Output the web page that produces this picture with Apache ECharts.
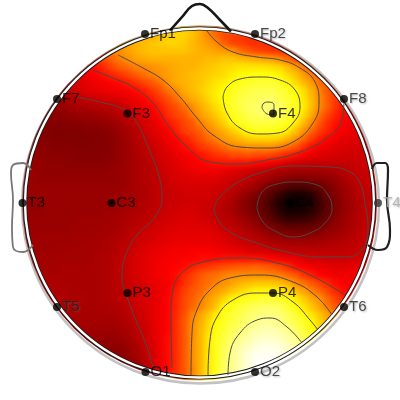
<!DOCTYPE html>
<html><head><meta charset="utf-8">
<style>html,body{margin:0;padding:0;background:#fff}#c{width:400px;height:400px}</style>
<script src="https://cdn.jsdelivr.net/npm/echarts@6/dist/echarts.min.js"></script>
</head><body><div id="c"></div>
<script>
const _=null;
const fieldValues=[
[_,_,_,_,_,_,_,_,_,_,_,_,_,_,_,_,_,_,_,74,74,72,70,66,62,60],
[_,_,_,_,_,_,_,_,_,_,_,_,_,_,_,68,70,72,74,75,75,73,70,66,62,59,57,56,55,54],
[_,_,_,_,_,_,_,_,_,_,_,_,66,69,71,72,73,74,75,75,74,72,70,68,66,61,58,57,56,55,55,54,54],
[_,_,_,_,_,_,_,_,_,_,62,64,67,69,71,72,73,73,73,73,73,72,71,70,69,68,67,63,60,58,57,56,55,55,55],
[_,_,_,_,_,_,_,_,_,56,59,62,65,67,69,70,71,71,71,71,71,71,71,72,72,73,73,72,71,70,69,68,66,62,58,55],
[_,_,_,_,_,_,_,_,50,52,55,58,61,63,65,66,67,68,69,70,71,71,72,73,74,75,76,77,77,77,77,76,75,72,68,64,60],
[_,_,_,_,_,_,_,44,48,50,52,54,56,58,61,63,65,67,69,70,71,72,73,74,75,76,78,79,80,81,81,80,79,76,73,68,64,60,56],
[_,_,_,_,_,36,40,43,45,47,48,50,51,53,55,58,60,63,67,70,71,72,73,75,77,78,80,82,83,84,84,84,82,79,76,72,68,63,59,55],
[_,_,_,_,34,37,40,42,44,45,46,47,48,49,51,53,56,59,63,66,70,72,74,76,78,80,82,84,85,86,86,86,85,83,80,76,71,65,60,55,52],
[_,_,_,_,30,32,35,37,39,40,41,42,43,45,47,50,53,56,59,63,67,70,72,75,78,80,83,85,86,87,88,88,86,84,81,77,72,66,61,56,52],
[_,_,_,28,29,30,32,33,34,35,36,37,39,41,44,47,50,53,57,59,63,66,70,73,76,79,83,85,87,88,89,89,88,85,82,78,72,66,61,56,52,49],
[_,_,27,27,28,28,29,30,30,31,32,34,36,38,41,44,47,51,55,58,60,64,68,71,74,77,82,84,86,87,88,88,87,84,81,76,70,63,58,54,51,49,47],
[_,_,27,26,26,26,27,27,28,28,29,30,32,35,38,41,44,48,52,55,58,60,65,68,71,75,79,82,84,85,85,85,84,82,78,72,66,60,55,52,49,47,45],
[_,26,26,25,25,25,25,25,26,26,27,28,30,33,36,40,43,46,49,53,57,59,61,65,68,71,74,77,80,82,82,81,81,78,73,67,62,57,54,50,48,46,44,43],
[_,27,26,26,25,25,25,25,25,26,26,27,29,32,35,38,41,44,47,50,53,56,59,62,65,68,70,72,74,75,75,75,74,71,67,62,57,53,50,47,45,44,43,42],
[_,28,27,27,26,26,26,26,26,26,26,27,29,31,34,37,39,42,45,48,51,53,56,58,60,63,65,66,67,67,67,67,65,63,60,55,51,48,46,44,43,42,41,41],
[29,28,28,27,27,27,27,26,26,26,27,27,29,31,33,36,38,41,43,46,48,50,52,54,56,57,59,59,60,59,59,58,56,54,52,49,46,44,43,42,41,41,41,40,40],
[30,29,29,28,28,28,27,27,27,27,27,28,29,31,33,35,37,40,42,44,46,48,50,51,52,52,52,52,52,51,50,48,46,43,41,40,39,39,39,39,39,39,40,40,40],
[30,29,29,28,28,28,28,28,28,28,28,29,30,31,33,35,36,39,41,43,45,46,47,47,47,46,44,43,41,39,38,36,34,33,32,32,32,32,33,34,36,38,39,40,40],
[30,30,29,29,29,29,29,29,29,29,29,29,30,31,33,35,36,38,40,42,43,44,44,44,44,42,40,39,37,35,33,30,27,26,25,25,26,27,28,30,33,36,38,39,40],
[30,30,30,30,30,30,30,30,30,30,30,30,30,31,33,34,36,38,39,41,42,42,42,42,41,40,38,36,34,30,26,22,19,16,15,15,17,20,24,27,31,34,37,39,40],
[30,30,30,30,30,30,30,30,30,30,30,30,31,32,33,34,36,38,39,40,41,41,41,41,40,38,35,32,28,25,21,16,11,6,4,5,8,15,22,26,30,33,37,38,39],
[29,29,29,29,30,30,30,30,30,30,30,31,31,32,33,35,36,38,39,40,41,41,41,40,38,36,33,29,25,22,18,12,6,2,2,3,6,12,19,24,29,32,35,38,39],
[30,29,29,30,30,30,30,30,30,30,31,31,32,33,34,35,37,38,40,41,42,42,41,39,37,35,33,29,26,23,19,14,8,4,4,5,8,13,19,25,29,32,35,38,39],
[31,30,30,30,30,30,30,31,31,31,31,32,33,34,35,36,38,40,41,42,43,43,42,41,38,36,35,32,29,26,22,18,13,10,10,11,13,17,22,27,30,33,36,38,39],
[31,30,30,30,30,30,31,31,31,31,32,32,33,35,36,38,40,41,43,43,44,44,44,43,41,38,37,35,32,30,27,24,21,19,19,19,20,23,26,29,31,34,36,38,39],
[31,31,31,31,31,31,31,31,31,32,32,33,34,36,38,40,41,43,44,45,45,45,45,45,44,42,40,38,36,34,32,29,27,26,26,26,27,28,30,31,33,35,37,39,40],
[31,31,31,31,31,31,31,32,32,32,33,34,35,37,39,41,43,44,45,46,46,46,46,46,45,44,42,40,39,38,36,34,33,32,32,32,32,33,34,35,36,37,38,40,41],
[32,32,31,31,31,32,32,32,32,33,33,34,36,38,41,43,45,46,47,48,48,49,49,49,48,47,46,45,43,42,41,40,39,38,37,37,37,37,37,37,37,38,39,42,43],
[_,32,32,32,32,32,32,32,32,33,34,35,37,40,42,44,46,47,48,49,50,50,51,51,51,52,52,52,52,52,51,50,48,46,45,43,42,41,40,40,40,41,42,44],
[_,33,33,32,32,33,33,33,33,33,34,35,37,40,42,44,46,48,49,50,51,53,55,56,58,59,60,61,61,62,61,60,58,55,51,49,47,46,45,44,44,45,46,47],
[_,_,33,33,33,33,33,33,33,33,34,35,37,40,42,44,46,48,49,51,54,57,60,62,63,65,66,66,66,66,66,65,64,62,60,56,53,50,48,47,47,47,48],
[_,_,34,34,34,33,33,33,33,33,34,35,37,39,41,43,45,47,49,51,55,58,61,63,65,67,69,71,72,73,73,73,72,70,66,63,60,57,54,51,49,49,50],
[_,_,34,34,34,34,33,33,33,33,34,35,36,39,41,42,44,46,49,53,57,60,62,65,68,70,73,75,77,79,79,79,78,76,72,69,65,62,58,54,51,50],
[_,_,_,34,34,34,34,34,33,33,34,35,36,38,40,42,44,46,50,54,58,61,64,68,71,75,79,81,82,83,84,84,83,81,78,74,70,67,62,58,54,52],
[_,_,_,34,34,33,33,33,33,33,33,34,35,37,40,42,44,47,50,54,58,62,65,69,73,80,82,84,86,87,88,88,87,84,81,77,73,69,64,60,56],
[_,_,_,_,33,33,33,33,33,33,33,33,34,36,39,41,44,47,50,55,59,65,69,73,78,82,84,86,88,89,90,90,89,87,84,81,77,73,69,64,60],
[_,_,_,_,_,33,32,32,32,32,32,32,33,35,37,40,44,47,50,55,60,66,70,75,80,83,85,87,89,91,92,92,90,88,86,83,80,75,71,66],
[_,_,_,_,_,_,32,32,31,31,31,31,32,33,36,39,43,47,50,55,60,66,71,76,81,84,87,89,91,93,94,94,93,91,88,85,81,76,72],
[_,_,_,_,_,_,_,31,30,30,29,29,30,32,35,39,43,47,51,55,60,66,71,77,82,85,88,91,93,95,96,96,95,93,91,87,83,78],
[_,_,_,_,_,_,_,_,30,29,28,28,28,30,33,37,42,46,51,55,60,66,71,77,82,86,90,93,95,97,98,98,97,95,93,89,85],
[_,_,_,_,_,_,_,_,_,_,27,27,27,29,32,36,41,46,51,55,60,66,71,77,82,87,91,94,97,99,99,99,98,96,93],
[_,_,_,_,_,_,_,_,_,_,_,_,27,29,31,35,40,46,51,55,60,66,71,77,82,87,91,94,97,99,100,99,98],
[_,_,_,_,_,_,_,_,_,_,_,_,_,_,32,36,40,46,51,55,60,65,71,77,82,88,91,94,97,99,99],
[_,_,_,_,_,_,_,_,_,_,_,_,_,_,_,_,_,_,_,58,62,66,72,78,84,88]
];
const contourLeft=[[76,97],[100,102],[125,110],[137,123],[148,147],[158,173],[162,197],[155,217],[137,235],[125,257],[122,277],[127,297],[137,323],[147,347],[153,368]];
const contourUpperOuter=[[93,70],[113,78],[133,87],[153,103],[168,125],[187,147],[210,162],[237,164],[267,160],[300,152],[328,137],[342,120],[344,100]];
const contourUpperMid=[[118,55],[143,68],[163,80],[180,97],[197,118],[213,135],[240,147],[267,148],[293,142],[313,123],[319,102],[315,82],[300,68],[280,60],[257,57],[233,52],[217,42],[207,31]];
const contourF4=[[223,97],[227,87],[240,79],[260,77],[280,80],[295,90],[300,107],[293,123],[278,133],[260,134],[240,128],[227,113],[223,97]];
const contourF4Peak=[[262,108],[263,104],[268,102],[274,105],[273,115],[267,114],[262,108]];
const contourBlobOuter=[[214,208],[220,197],[237,183],[263,172],[293,166],[330,167],[350,172],[360,183],[365,203],[368,227],[363,248],[347,257],[320,257],[287,252],[257,243],[230,232],[217,218],[214,208]];
const contourBlobInner=[[257,208],[262,192],[277,184],[295,182],[317,185],[328,195],[332,208],[325,223],[310,233],[293,237],[277,232],[263,222],[257,208]];
const contourLower1=[[172,368],[171,317],[173,290],[183,272],[203,262],[240,258],[277,263],[310,275],[345,295]];
const contourLower2=[[191,375],[192,333],[197,310],[210,290],[230,278],[260,275],[293,282],[317,297],[332,315]];
const contourLower3=[[208,375],[210,340],[217,317],[233,300],[257,293],[273,293],[293,302],[310,320],[318,330]];
const contourLower4=[[228,375],[230,353],[240,333],[257,320],[270,318],[287,327],[302,343]];
const noseOutline=[[170,30.5],[182,17],[192,6],[200,4],[208,8],[220,20],[231,31.5]];
const leftEarOutline=[[31,170],[23,163],[13,165],[11,173],[13,200],[12,227],[13,247],[23,252],[33,245]];
const rightEarOutline=[[372,169],[377,163],[385,163],[388,170],[387,200],[390,230],[387,247],[378,250],[368,245]];
const electrodeNames=["Fp1","Fp2","F7","F3","F4","F8","T3","C3","C4","T4","T5","P3","P4","T6","O1","O2"];
const electrodeX=[145,255,57,127.5,273,344,22.5,111.5,290,378,57,127.5,273,344,145.5,255];
const electrodeY=[34,34,99,113.5,113.5,99,203,203,203,203,307,293,293,307,372,372];
const haloLabels=["Fp2","F8","T6","T4","O2","T5"];

const cells=[];
fieldValues.forEach((row,r)=>row.forEach((v,c)=>{if(v!==null)cells.push([c,r,v]);}));
const cats=n=>Array.from({length:n},(_v,i)=>String(i));
const contours=[contourLeft,contourUpperOuter,contourUpperMid,contourF4,contourF4Peak,contourBlobOuter,contourBlobInner,contourLower1,contourLower2,contourLower3,contourLower4];
const lineS=(d,color,width,z)=>({type:'line',zlevel:1,xAxisIndex:1,yAxisIndex:1,data:d,smooth:0.45,showSymbol:false,symbol:'none',silent:true,z,lineStyle:{color,width},animation:false});
const cx=199.5,cy=203;
const chart=echarts.init(document.getElementById('c'),null,{renderer:'canvas'});
chart.setOption({
 animation:false,
 grid:[{left:20,top:23,width:360,height:360},{left:0,top:0,width:400,height:400}],
 xAxis:[{type:'category',gridIndex:0,data:cats(45),show:false},{type:'value',gridIndex:1,min:0,max:400,show:false}],
 yAxis:[{type:'category',gridIndex:0,data:cats(45),inverse:true,show:false},{type:'value',gridIndex:1,min:0,max:400,inverse:true,show:false}],
 visualMap:{show:false,min:0,max:100,seriesIndex:0,dimension:2,inRange:{color:['#000000','#330000','#660000','#990000','#cc0000','#ff0000','#ff5500','#ffaa00','#ffff00','#ffff80','#ffffff']}},
 graphic:{zlevel:1,elements:[
  {type:'ring',silent:true,z:2,zlevel:1,shape:{cx,cy,r:300,r0:177.5},style:{fill:'#fff'}},
  {type:'circle',silent:true,z:2,zlevel:1,shape:{cx:cx+1,cy:cy+2,r:178.5},style:{fill:'none',stroke:'rgba(120,120,120,0.45)',lineWidth:2.5}},
  {type:'circle',silent:true,z:2,zlevel:1,shape:{cx,cy,r:174.5},style:{fill:'none',stroke:'#1a1a1a',lineWidth:4.2}},
  {type:'circle',silent:true,z:2,zlevel:1,shape:{cx,cy,r:174.5},style:{fill:'none',stroke:'#ffffff',lineWidth:2.4}}
 ]},
 series:[
  {type:'heatmap',zlevel:0,xAxisIndex:0,yAxisIndex:0,data:cells,silent:true,z:1,progressive:0,itemStyle:{borderWidth:0},emphasis:{disabled:true}},
  ...contours.map(c=>lineS(c,'#4a4a4a',1,3)),
  lineS(noseOutline,'#151515',2.6,3),
  lineS(leftEarOutline,'#777777',1.8,3),
  lineS(rightEarOutline,'#202020',2.2,3),
  {type:'scatter',zlevel:1,xAxisIndex:1,yAxisIndex:1,z:4,silent:true,symbolSize:8,itemStyle:{color:'#000'},
   data:electrodeNames.map((n,i)=>({name:n,value:[electrodeX[i],electrodeY[i]],
     itemStyle:n==='T4'?{color:'#333'}:undefined,
     label:haloLabels.includes(n)?{color:n==='T4'?'#aaaaaa':'#222222',textShadowColor:'rgba(110,110,110,0.6)',textShadowBlur:2,textShadowOffsetX:1,textShadowOffsetY:1}:{color:'#000000'}})),
   label:{show:true,position:'right',distance:1,formatter:p=>p.name,fontFamily:'Liberation Sans',fontSize:15}}
 ]
});
const base=document.querySelector('#c canvas');
if(base)base.style.filter='blur(2.5px)';
</script></body></html>
